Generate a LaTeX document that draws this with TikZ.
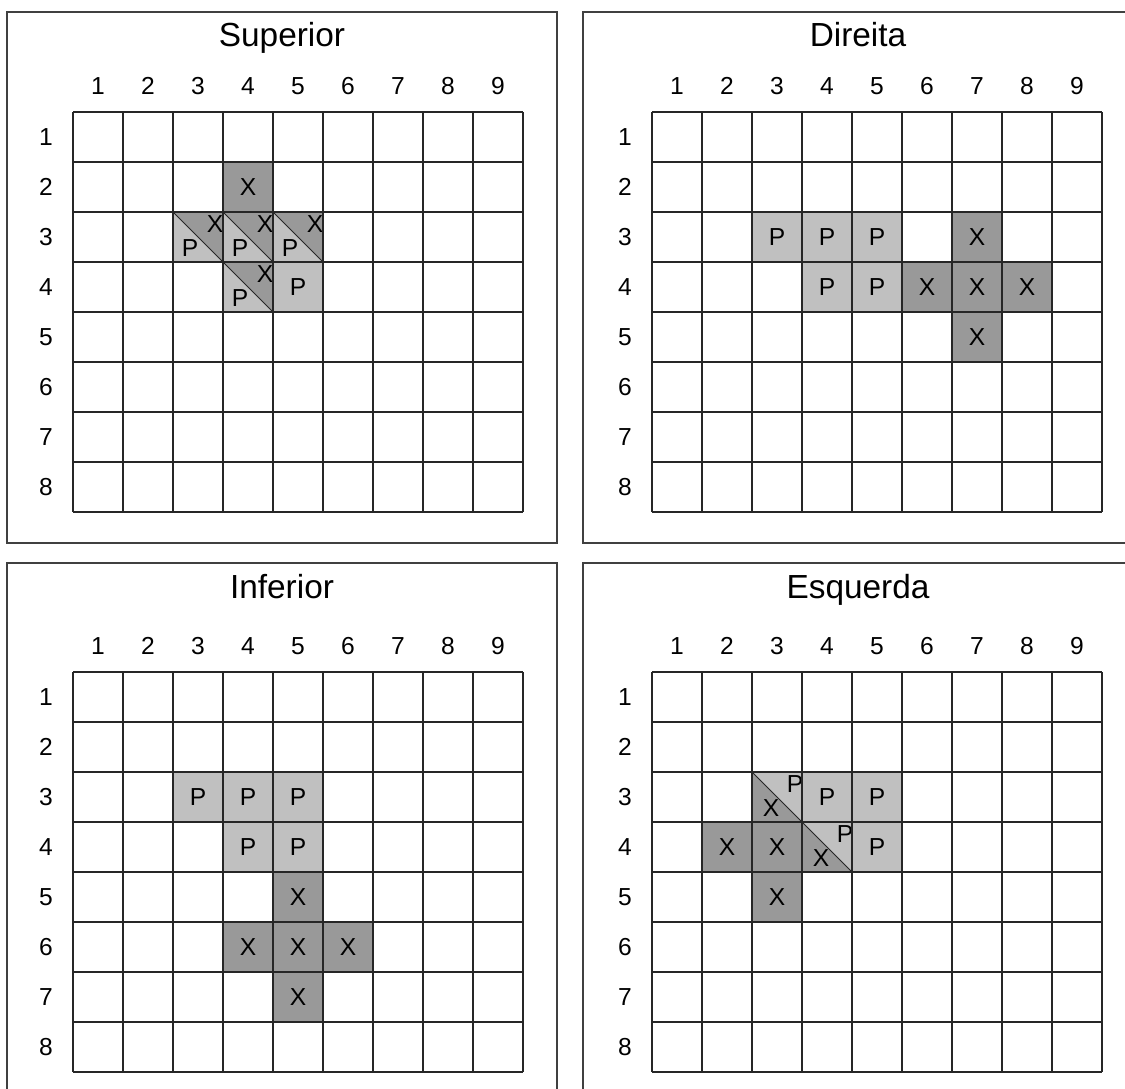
\documentclass[tikz,border=0pt]{standalone}
\usepackage{fontspec}
\setmainfont{Liberation Sans}
\definecolor{darkcell}{RGB}{153,153,153}
\definecolor{lightcell}{RGB}{192,192,192}

\begin{document}
\begin{tikzpicture}[x=0.02cm,y=-0.02cm,
    frame/.style={draw=black!75,line width=0.6pt},
    gridline/.style={draw=black!85,line width=0.6pt},
    lbl/.style={font=\fontsize{14}{16}\selectfont,inner sep=0pt},
    ttl/.style={font=\fontsize{19}{22}\selectfont,inner sep=0pt,anchor=base}]
  \useasboundingbox (0,0) rectangle (1125,1088);
  \def \csize {50}

  % Superior
  \begin{scope}[shift={(73,112)}]
    \foreach \r/\c in {2/4}
    {
      \fill[darkcell] ({(\c-1)*\csize},{(\r-1)*\csize}) rectangle ++(\csize,\csize);
      \node[lbl] (sup-x-\r\c) at ({(\c-.5)*\csize},{(\r-.5)*\csize}) {X};
    }
    \foreach \r/\c in {4/5}
    {
      \fill[lightcell] ({(\c-1)*\csize},{(\r-1)*\csize}) rectangle ++(\csize,\csize);
      \node[lbl] (sup-p-\r\c) at ({(\c-.5)*\csize},{(\r-.5)*\csize}) {P};
    }
    \foreach \r/\c in {3/3,3/4,3/5,4/4}
    {
      \fill[darkcell] ({(\c-1)*\csize},{(\r-1)*\csize}) -- ++(\csize,0) -- ++(0,\csize) -- cycle;
      \fill[lightcell] ({(\c-1)*\csize},{(\r-1)*\csize}) -- ++(0,\csize) -- ++(\csize,0) -- cycle;
      \draw[gridline] ({(\c-1)*\csize},{(\r-1)*\csize}) -- ++(\csize,\csize);
      \node[lbl] (sup-x-\r\c) at ({(\c-1)*\csize+42},{(\r-1)*\csize+12}) {X};
      \node[lbl] (sup-p-\r\c) at ({(\c-1)*\csize+17},{(\r-1)*\csize+36}) {P};
    }
  \end{scope}

  % Direita
  \begin{scope}[shift={(652,112)}]
    \foreach \r/\c in {3/7,4/6,4/7,4/8,5/7}
    {
      \fill[darkcell] ({(\c-1)*\csize},{(\r-1)*\csize}) rectangle ++(\csize,\csize);
      \node[lbl] (dir-x-\r\c) at ({(\c-.5)*\csize},{(\r-.5)*\csize}) {X};
    }
    \foreach \r/\c in {3/3,3/4,3/5,4/4,4/5}
    {
      \fill[lightcell] ({(\c-1)*\csize},{(\r-1)*\csize}) rectangle ++(\csize,\csize);
      \node[lbl] (dir-p-\r\c) at ({(\c-.5)*\csize},{(\r-.5)*\csize}) {P};
    }
  \end{scope}

  % Inferior
  \begin{scope}[shift={(73,672)}]
    \foreach \r/\c in {5/5,6/4,6/5,6/6,7/5}
    {
      \fill[darkcell] ({(\c-1)*\csize},{(\r-1)*\csize}) rectangle ++(\csize,\csize);
      \node[lbl] (inf-x-\r\c) at ({(\c-.5)*\csize},{(\r-.5)*\csize}) {X};
    }
    \foreach \r/\c in {3/3,3/4,3/5,4/4,4/5}
    {
      \fill[lightcell] ({(\c-1)*\csize},{(\r-1)*\csize}) rectangle ++(\csize,\csize);
      \node[lbl] (inf-p-\r\c) at ({(\c-.5)*\csize},{(\r-.5)*\csize}) {P};
    }
  \end{scope}

  % Esquerda
  \begin{scope}[shift={(652,672)}]
    \foreach \r/\c in {4/2,4/3,5/3}
    {
      \fill[darkcell] ({(\c-1)*\csize},{(\r-1)*\csize}) rectangle ++(\csize,\csize);
      \node[lbl] (esq-x-\r\c) at ({(\c-.5)*\csize},{(\r-.5)*\csize}) {X};
    }
    \foreach \r/\c in {3/4,3/5,4/5}
    {
      \fill[lightcell] ({(\c-1)*\csize},{(\r-1)*\csize}) rectangle ++(\csize,\csize);
      \node[lbl] (esq-p-\r\c) at ({(\c-.5)*\csize},{(\r-.5)*\csize}) {P};
    }
    \foreach \r/\c in {3/3,4/4}
    {
      \fill[lightcell] ({(\c-1)*\csize},{(\r-1)*\csize}) -- ++(\csize,0) -- ++(0,\csize) -- cycle;
      \fill[darkcell] ({(\c-1)*\csize},{(\r-1)*\csize}) -- ++(0,\csize) -- ++(\csize,0) -- cycle;
      \draw[gridline] ({(\c-1)*\csize},{(\r-1)*\csize}) -- ++(\csize,\csize);
      \node[lbl] (esq-p-\r\c) at ({(\c-1)*\csize+43},{(\r-1)*\csize+12}) {P};
      \node[lbl] (esq-x-\r\c) at ({(\c-1)*\csize+19},{(\r-1)*\csize+36}) {X};
    }
  \end{scope}

  % frames, titles, labels and grids
  \foreach \bx/\by/\gx/\gy/\name in {7/12/73/112/Superior, 583/12/652/112/Direita,
      7/563/73/672/Inferior, 583/563/652/672/Esquerda}
  {
    \draw[frame] (\bx,\by) rectangle ++(550,531);
    \node[ttl] (title-\name) at (\bx+275,\by+35) {\name};
    \begin{scope}[shift={(\gx,\gy)}]
      \foreach \c in {1,...,9}
        \node[lbl] (col-\name-\c) at ({(\c-.5)*\csize},-26) {\c};
      \foreach \r in {1,...,8}
        \node[lbl] (row-\name-\r) at (-27,{(\r-.5)*\csize}) {\r};
      \foreach \i in {0,...,9}
        \draw[gridline] ({\i*\csize},0) -- ({\i*\csize},{8*\csize});
      \foreach \j in {0,...,8}
        \draw[gridline] (0,{\j*\csize}) -- ({9*\csize},{\j*\csize});
    \end{scope}
  }
\end{tikzpicture}
\end{document}
